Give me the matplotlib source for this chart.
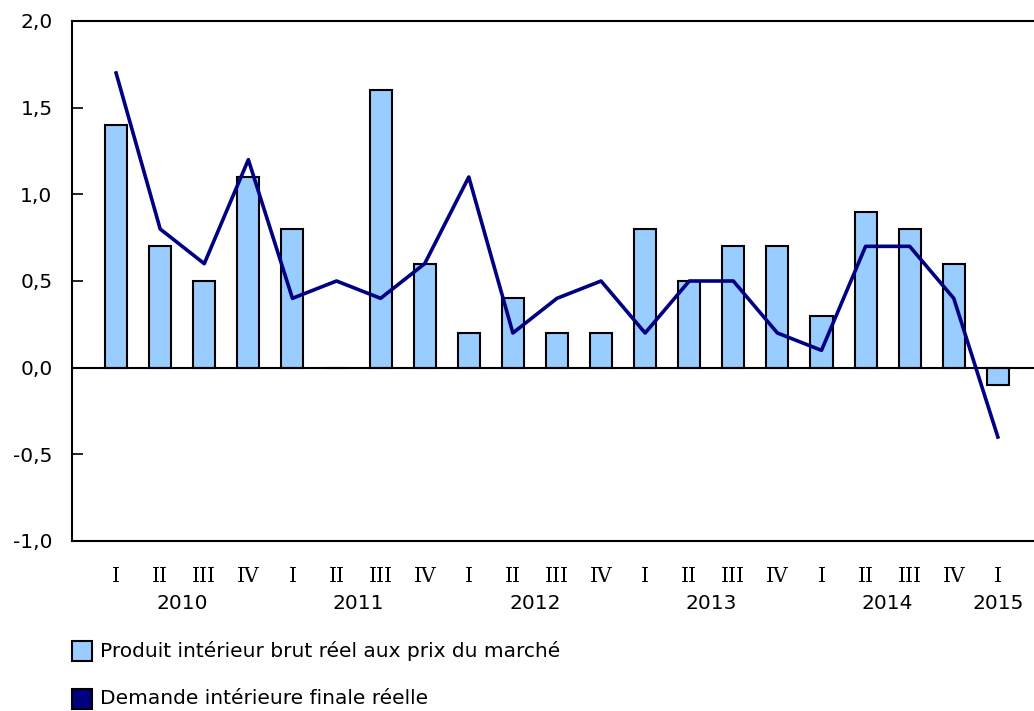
import numpy as np
import matplotlib.pyplot as plt
from matplotlib.patches import Rectangle
from matplotlib.transforms import blended_transform_factory

quarters = ['I', 'II', 'III', 'IV'] * 5 + ['I']
years = ['2010', '2011', '2012', '2013', '2014', '2015']
year_pos = [1.5, 5.5, 9.5, 13.5, 17.5, 20]

pib = [1.4, 0.7, 0.5, 1.1, 0.8, 0.0, 1.6, 0.6, 0.2, 0.4, 0.2, 0.2,
       0.8, 0.5, 0.7, 0.7, 0.3, 0.9, 0.8, 0.6, -0.1]
demande = [1.7, 0.8, 0.6, 1.2, 0.4, 0.5, 0.4, 0.6, 1.1, 0.2, 0.4, 0.5,
           0.2, 0.5, 0.5, 0.2, 0.1, 0.7, 0.7, 0.4, -0.4]

label_pib = 'Produit intérieur brut réel aux prix du marché'
label_dem = 'Demande intérieure finale réelle'

bar_color = '#99ccff'
line_color = '#000080'
fs = 14.5

W, H = 1034, 711
fig = plt.figure(figsize=(W / 100, H / 100), dpi=100)
ax = fig.add_axes([72 / W, (H - 541) / H, (W - 72) / W, 520 / H])

x = np.arange(len(pib))
ax.bar(x, pib, width=0.5, color=bar_color, edgecolor='black', linewidth=1.5, zorder=2)
ax.axhline(0, color='black', linewidth=1.5, zorder=3)
ax.plot(x, demande, color=line_color, linewidth=2.6, zorder=4)

ax.set_xlim(-1.0, 20.82)
ax.set_ylim(-1.0, 2.0)
ax.set_yticks([-1.0, -0.5, 0.0, 0.5, 1.0, 1.5, 2.0])
ax.set_yticklabels(['-1,0', '-0,5', '0,0', '0,5', '1,0', '1,5', '2,0'])
ax.tick_params(axis='y', direction='in', length=8, width=1.2, labelsize=fs, pad=14)
ax.set_xticks([])

for side in ['top', 'left', 'bottom']:
    ax.spines[side].set_linewidth(1.5)
ax.spines['right'].set_visible(False)

trans = blended_transform_factory(ax.transData, ax.transAxes)
for i, q in enumerate(quarters):
    ax.text(i, -0.069, q, transform=trans, ha='center', va='center',
            fontsize=fs, family='DejaVu Serif')
for yr, p in zip(years, year_pos):
    ax.text(p, -0.121, yr, transform=trans, ha='center', va='center', fontsize=fs)

# legend
for k, (lab, col) in enumerate([(label_pib, bar_color), (label_dem, line_color)]):
    yc = 651 + 48 * k
    fig.patches.append(Rectangle((72 / W, (H - yc - 10) / H), 20 / W, 20 / H,
                                 transform=fig.transFigure, facecolor=col,
                                 edgecolor='black', linewidth=1.5))
    fig.text(100 / W, (H - yc) / H, lab, ha='left', va='center', fontsize=fs)

fig.savefig('out.png', dpi=100)
